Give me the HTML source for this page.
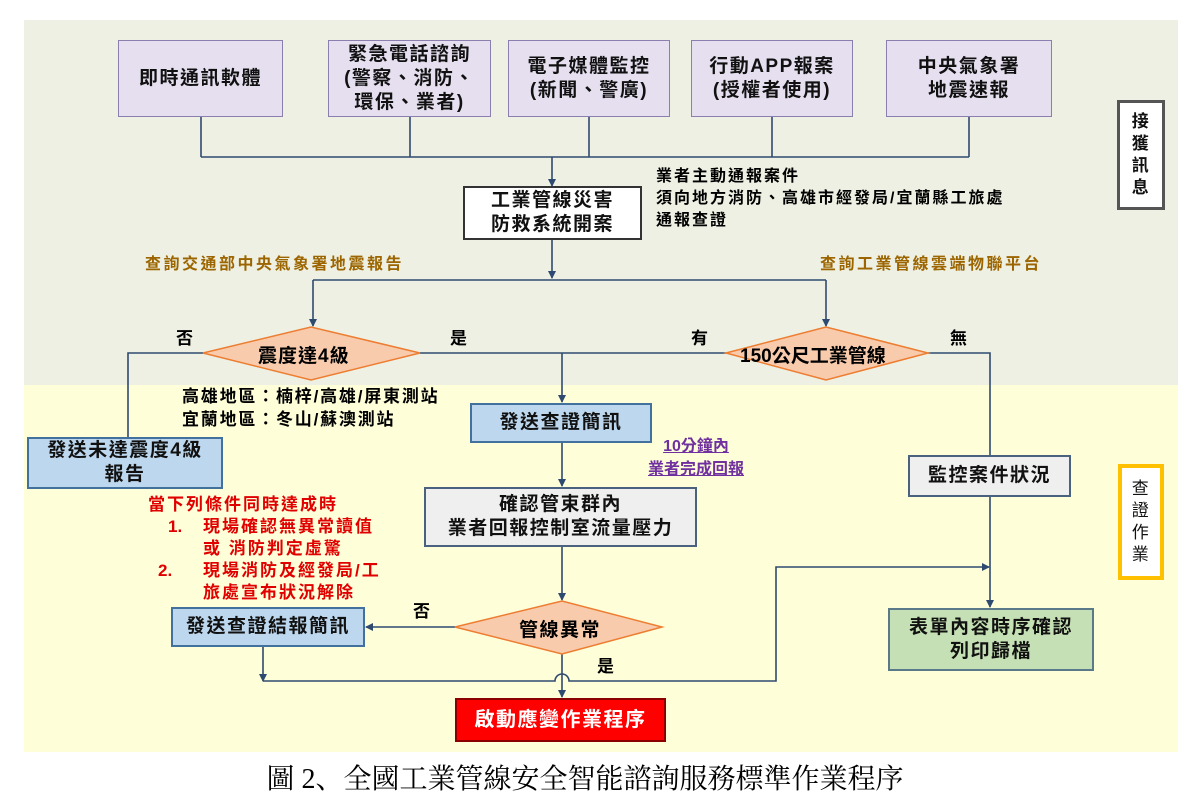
<!DOCTYPE html>
<html><head><meta charset="utf-8">
<style>
body{margin:0;width:1202px;height:802px;background:#fff;position:relative;overflow:hidden;font-family:"Liberation Sans","Noto Sans CJK TC",sans-serif;}
.a{position:absolute;}
.box{position:absolute;display:flex;align-items:center;justify-content:center;text-align:center;box-sizing:border-box;font-size:19px;line-height:24px;color:#111;font-weight:bold;letter-spacing:1.5px;white-space:nowrap;}
.lav{background:#e6dff0;border:1.5px solid #8a7fae;}
.blue{background:#bdd7ee;border:2px solid #41719c;}
.grey{background:#efefef;border:2px solid #4a6180;}
.t{position:absolute;white-space:nowrap;font-weight:bold;}
</style></head><body>
<div class="a" style="left:24px;top:20px;width:1154px;height:365px;background:#edf0e2"></div>
<div class="a" style="left:24px;top:385px;width:1154px;height:367px;background:#fefed9"></div>

<svg class="a" style="left:0;top:0" width="1202" height="802">
<defs><marker id="ar" markerWidth="8" markerHeight="8" refX="7" refY="4" orient="auto" markerUnits="userSpaceOnUse"><path d="M0,0 L8,4 L0,8 z" fill="#2f4a70"/></marker></defs>
<g stroke="#2f4a70" stroke-width="1.6" fill="none">
<path d="M201,117V157M410,117V157M589,117V157M772,117V157M969,117V157M201,157H969"/>
<path d="M552,157V186" marker-end="url(#ar)"/>
<path d="M552,240V278" marker-end="url(#ar)"/>
<path d="M313,280H826"/>
<path d="M313,280V326" marker-end="url(#ar)"/>
<path d="M826,280V326" marker-end="url(#ar)"/>
<path d="M203,353H128V437"/>
<path d="M420,353H726"/>
<path d="M562,353V402" marker-end="url(#ar)"/>
<path d="M928,353H990V455"/>
<path d="M990,497V607" marker-end="url(#ar)"/>
<path d="M562,443V486" marker-end="url(#ar)"/>
<path d="M562,547V600" marker-end="url(#ar)"/>
<path d="M455,627H366" marker-end="url(#ar)"/>
<path d="M562,654V697" marker-end="url(#ar)"/>
<path d="M263,647V681" marker-end="url(#ar)"/>
<path d="M263,681H555A7,7 0 0 1 569,681H776V567H989" marker-end="url(#ar)"/>
</g>
<polygon points="203,353 311,327 420,353 311,380" fill="#f8cbad" stroke="#ed7d31" stroke-width="1.5"/>
<polygon points="726,353 826,327 928,353 826,380" fill="#f8cbad" stroke="#ed7d31" stroke-width="1.5"/>
<polygon points="455,627 562,601 662,627 562,654" fill="#f8cbad" stroke="#ed7d31" stroke-width="1.5"/>
</svg>

<div class="box lav" style="left:118px;top:40px;width:165px;height:77px;">即時通訊軟體</div>
<div class="box lav" style="left:328px;top:40px;width:163px;height:77px;">緊急電話諮詢<br>(警察、消防、<br>環保、業者)</div>
<div class="box lav" style="left:508px;top:40px;width:162px;height:77px;">電子媒體監控<br>(新聞、警廣)</div>
<div class="box lav" style="left:691px;top:40px;width:162px;height:77px;">行動APP報案<br>(授權者使用)</div>
<div class="box lav" style="left:886px;top:40px;width:166px;height:77px;">中央氣象署<br>地震速報</div>

<div class="box" style="left:463px;top:186px;width:179px;height:54px;background:#fff;border:2px solid #333;">工業管線災害<br>防救系統開案</div>
<div class="t" style="left:656px;top:166px;font-size:16px;line-height:22px;letter-spacing:2px;">業者主動通報案件<br>須向地方消防、高雄市經發局/宜蘭縣工旅處<br>通報查證</div>
<div class="box" style="left:1117px;top:100px;width:48px;height:110px;background:#fff;border:3px solid #555;font-size:17px;line-height:22px;">接<br>獲<br>訊<br>息</div>
<div class="t" style="left:145px;top:250px;font-size:16px;color:#9c6500;letter-spacing:2.5px;">查詢交通部中央氣象署地震報告</div>
<div class="t" style="left:820px;top:250px;font-size:16px;color:#9c6500;letter-spacing:2.5px;">查詢工業管線雲端物聯平台</div>

<div class="t" style="left:258px;top:341px;font-size:19px;letter-spacing:1px;">震度達4級</div>
<div class="t" style="left:740px;top:341px;font-size:19px;">150公尺工業管線</div>
<div class="t" style="left:519px;top:615px;font-size:19px;letter-spacing:1.5px;">管線異常</div>
<div class="t" style="left:176px;top:324px;font-size:17px;">否</div>
<div class="t" style="left:450px;top:324px;font-size:17px;">是</div>
<div class="t" style="left:691px;top:324px;font-size:17px;">有</div>
<div class="t" style="left:950px;top:324px;font-size:17px;">無</div>
<div class="t" style="left:413px;top:597px;font-size:17px;">否</div>
<div class="t" style="left:597px;top:652px;font-size:17px;">是</div>

<div class="t" style="left:182px;top:385px;font-size:17px;line-height:23px;letter-spacing:1.8px;">高雄地區：楠梓/高雄/屏東測站<br>宜蘭地區：冬山/蘇澳測站</div>
<div class="box blue" style="left:27px;top:437px;width:196px;height:52px;">發送未達震度4級<br>報告</div>
<div class="box blue" style="left:470px;top:403px;width:182px;height:40px;">發送查證簡訊</div>
<div class="t" style="left:648px;top:435px;font-size:16px;line-height:23px;color:#7030a0;text-align:center;text-decoration:underline;">10分鐘內<br>業者完成回報</div>
<div class="box grey" style="left:424px;top:487px;width:273px;height:60px;">確認管束群內<br>業者回報控制室流量壓力</div>
<div class="box grey" style="left:908px;top:455px;width:163px;height:42px;">監控案件狀況</div>
<div class="box" style="left:888px;top:608px;width:206px;height:63px;background:#c5e0b4;border:2px solid #5a7a8a;">表單內容時序確認<br>列印歸檔</div>
<div class="box" style="left:1118px;top:464px;width:46px;height:116px;background:#fff;border:4px solid #ffc000;font-size:17px;line-height:22px;font-weight:normal;">查<br>證<br>作<br>業</div>

<div class="t" style="left:148px;top:494px;font-size:17px;line-height:22px;letter-spacing:2px;color:#e00000;">當下列條件同時達成時</div>
<div class="t" style="left:168px;top:516px;font-size:17px;line-height:22px;color:#e00000;">1.</div>
<div class="t" style="left:203px;top:516px;font-size:17px;line-height:22px;letter-spacing:2px;color:#e00000;">現場確認無異常讀值<br>或 消防判定虛驚</div>
<div class="t" style="left:158px;top:560px;font-size:17px;line-height:22px;color:#e00000;">2.</div>
<div class="t" style="left:203px;top:560px;font-size:17px;line-height:22px;letter-spacing:2px;color:#e00000;">現場消防及經發局/工<br>旅處宣布狀況解除</div>
<div class="box blue" style="left:171px;top:607px;width:194px;height:40px;">發送查證結報簡訊</div>
<div class="box" style="left:455px;top:698px;width:211px;height:44px;background:#ff0000;border:2px solid #8b0000;color:#fff;font-size:20px;">啟動應變作業程序</div>

<div class="t" style="left:0;width:1170px;top:757px;text-align:center;font-family:'Liberation Serif','Noto Serif CJK SC',serif;font-size:28px;font-weight:normal;">圖 2、全國工業管線安全智能諮詢服務標準作業程序</div>
</body></html>
